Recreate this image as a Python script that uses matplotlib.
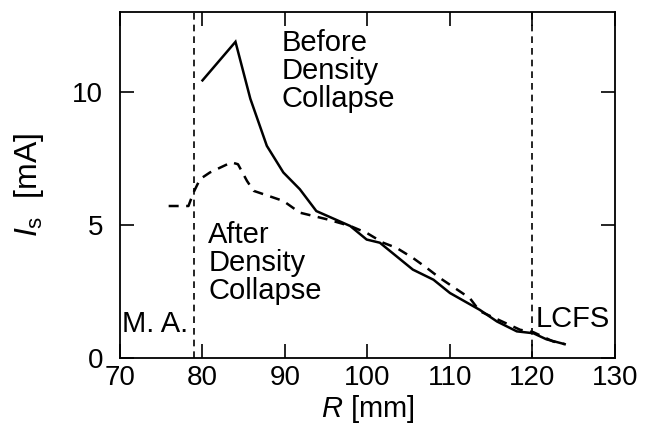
import matplotlib
matplotlib.use("Agg")
import matplotlib.pyplot as plt

plt.rcParams['font.family'] = ['Liberation Sans', 'DejaVu Sans']
plt.rcParams['mathtext.fontset'] = 'custom'
plt.rcParams['mathtext.rm'] = 'Liberation Sans'
plt.rcParams['mathtext.it'] = 'Liberation Sans:italic'

# Before density collapse (solid)
r_before = [80.0, 84.0, 85.8, 87.8, 89.8, 91.8, 93.8, 97.9, 99.9, 101.5, 105.5, 108.0,
            110.0, 113.6, 115.7, 118.1, 120.1, 121.7, 123.9]
i_before = [10.43, 11.88, 9.74, 7.97, 6.97, 6.34, 5.52, 4.96, 4.45, 4.33, 3.32, 2.94,
            2.44, 1.81, 1.37, 1.00, 0.93, 0.70, 0.52]

# After density collapse (dashed)
r_after = [75.9, 78.3, 78.9, 79.7, 80.9, 83.5, 84.3, 85.4, 86.2, 89.8, 91.8, 95.1,
           97.9, 99.9, 101.9, 103.5, 105.5, 107.2, 108.8, 112.4, 113.6, 118.5, 120.1,
           122.5, 123.9]
i_after = [5.71, 5.71, 6.21, 6.72, 6.97, 7.35, 7.28, 6.65, 6.28, 5.90, 5.46, 5.21,
           4.96, 4.70, 4.33, 4.14, 3.76, 3.38, 3.00, 2.25, 1.76, 1.06, 0.97,
           0.62, 0.52]

marker_r = [79.0, 120.0]
xticks = [70, 80, 90, 100, 110, 120, 130]
yticks = [0, 5, 10]

fig = plt.figure(figsize=(6.51, 4.28), dpi=100)
ax = fig.add_axes([0.1843, 0.1636, 0.7604, 0.8084])

ax.plot(r_before, i_before, color='black', lw=1.8, solid_joinstyle='miter')
ax.plot(r_after, i_after, color='black', lw=1.8, linestyle=(0, (4, 3)))
for xr in marker_r:
    ax.axvline(xr, color='black', lw=1.2, linestyle=(0, (4, 3)))

ax.set_xlim(70, 130)
ax.set_ylim(0, 13)
ax.set_xticks(xticks)
ax.set_yticks(yticks)
ax.tick_params(direction='in', length=10, width=1.2, labelsize=20,
               top=True, right=True)
ax.tick_params(axis='x', pad=5)
ax.tick_params(axis='y', pad=12)
for sp in ax.spines.values():
    sp.set_linewidth(1.3)

ax.text(89.6, 12.35, "Before\nDensity\nCollapse", fontsize=21, va='top', ha='left',
        linespacing=1.0)
ax.text(80.7, 5.15, "After\nDensity\nCollapse", fontsize=21, va='top', ha='left',
        linespacing=1.0)
ax.text(70.3, 0.98, "M. A.", fontsize=21, va='baseline', ha='left')
ax.text(120.4, 1.17, "LCFS", fontsize=21, va='baseline', ha='left')

ax.set_xlabel(r"$\mathit{R}$ [mm]", fontsize=21)
ax.xaxis.set_label_coords(0.5, -0.102)
ax.set_ylabel(r"$\mathit{I}_{\mathrm{s}}$  [mA]", fontsize=23)
ax.yaxis.set_label_coords(-0.15, 0.5)

fig.savefig("out.png", dpi=100)
